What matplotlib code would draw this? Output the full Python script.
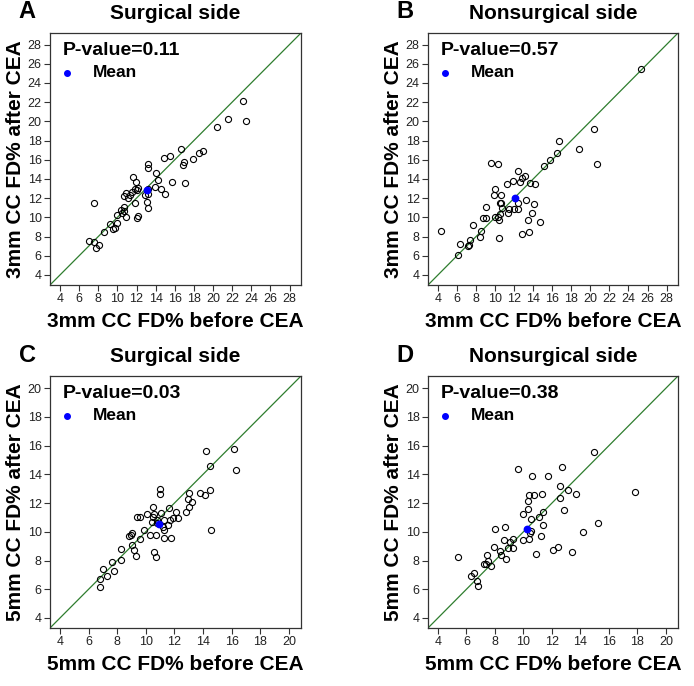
import numpy as np
import matplotlib
matplotlib.use("Agg")
import matplotlib.pyplot as plt

plt.rcParams['font.family'] = ['Liberation Sans', 'DejaVu Sans']

# panel A: 3mm, surgical side
a_before = [7.0, 7.6, 7.6, 7.75, 8.1, 8.6, 9.2, 9.5, 9.7, 9.95, 9.95, 10.4, 10.5, 10.65,
            10.7, 10.85, 10.7, 10.9, 11.1, 11.3, 11.6, 11.55, 11.8, 11.85, 11.95, 12.05,
            12.15, 12.1, 12.2, 12.9, 13.15, 13.2, 13.1, 13.15, 13.25, 13.25, 13.9, 14.0,
            14.2, 14.6, 14.9, 14.95, 15.55, 15.7, 16.6, 16.95, 16.9, 17.1, 17.9, 18.5,
            18.95, 20.4, 21.55, 23.15, 23.4]
a_after = [7.55, 11.5, 7.4, 6.8, 7.1, 8.5, 9.3, 8.8, 8.85, 9.45, 10.25, 10.8, 10.5, 11.1,
           10.65, 10.05, 12.2, 12.55, 12.05, 12.3, 14.15, 12.65, 12.95, 11.5, 13.7, 12.85,
           10.15, 9.9, 13.1, 12.3, 15.6, 15.1, 11.6, 10.95, 12.45, 12.95, 13.2, 14.6,
           13.9, 13.0, 16.15, 12.45, 16.4, 13.65, 17.15, 15.8, 15.4, 13.6, 16.05, 16.7,
           16.9, 19.45, 20.2, 22.1, 20.0]
a_mean = (13.05, 12.8)

# panel B: 3mm, nonsurgical side
b_before = [4.3, 6.15, 6.3, 7.4, 7.2, 7.3, 7.65, 8.4, 8.55, 8.7, 9.05, 9.05, 9.6, 9.9,
            10.0, 10.0, 10.25, 10.35, 10.45, 10.4, 10.55, 10.65, 10.5, 10.6, 10.75, 11.2,
            11.4, 11.5, 11.85, 12.0, 12.35, 12.45, 12.45, 12.65, 12.8, 12.8, 13.15, 13.2,
            13.4, 13.6, 13.7, 13.9, 14.1, 14.2, 14.7, 15.1, 15.75, 16.5, 16.75, 18.8,
            20.35, 20.7, 25.3]
b_after = [8.55, 6.05, 7.25, 7.6, 7.05, 7.15, 9.2, 7.9, 8.55, 9.95, 9.95, 11.1, 15.65,
           12.3, 12.95, 10.0, 10.0, 15.55, 7.85, 9.75, 10.35, 12.3, 11.5, 11.45, 11.0,
           13.45, 10.45, 10.9, 13.8, 10.9, 10.9, 14.8, 11.5, 13.7, 8.25, 14.1, 14.35,
           11.8, 9.7, 8.45, 13.6, 10.4, 11.35, 13.45, 9.5, 15.3, 16.0, 16.75, 17.95,
           17.1, 19.25, 15.6, 25.5]
b_mean = (12.1, 12.05)

# panel C: 5mm, surgical side
c_before = [6.78, 6.8, 7.0, 7.3, 7.65, 7.8, 8.25, 8.25, 8.8, 8.95, 9.05, 9.05, 9.15, 9.3,
            9.35, 9.6, 9.6, 9.85, 10.1, 10.3, 10.45, 10.5, 10.5, 10.55, 10.6, 10.7, 10.7,
            10.8, 10.8, 11.0, 11.0, 11.05, 11.2, 11.3, 11.3, 11.3, 11.55, 11.6, 11.7,
            11.75, 11.9, 12.1, 12.25, 12.8, 12.95, 13.0, 13.05, 13.25, 13.8, 14.15, 14.2,
            14.5, 14.5, 14.55, 16.15, 16.3]
c_after = [6.15, 6.7, 7.4, 6.9, 7.9, 7.3, 8.05, 8.8, 9.7, 9.75, 9.9, 9.1, 8.7, 8.3, 11.0,
           11.05, 9.5, 10.1, 11.25, 9.8, 10.65, 11.75, 11.0, 8.6, 11.25, 9.8, 8.25, 10.85,
           10.6, 13.0, 12.6, 11.3, 10.35, 10.8, 10.1, 9.6, 10.5, 11.65, 10.85, 9.55,
           10.95, 11.35, 10.95, 11.4, 12.25, 12.7, 11.7, 12.1, 12.7, 12.55, 15.6, 14.55,
           12.9, 10.15, 15.8, 14.3]
c_mean = (10.95, 10.55)

# panel D: 5mm, nonsurgical side
d_before = [5.4, 6.3, 6.5, 6.75, 6.8, 7.25, 7.35, 7.45, 7.5, 7.7, 7.9, 8.0, 8.35, 8.4,
            8.7, 8.65, 8.8, 8.9, 9.05, 9.25, 9.3, 9.6, 9.95, 10.0, 10.3, 10.35, 10.4,
            10.4, 10.45, 10.5, 10.55, 10.6, 10.75, 10.85, 11.2, 11.1, 11.3, 11.4, 11.4,
            11.7, 12.1, 12.4, 12.55, 12.6, 12.7, 12.85, 13.15, 13.4, 13.7, 14.2, 14.95,
            15.2, 17.8]
d_after = [8.25, 6.9, 7.1, 6.6, 6.25, 7.75, 7.75, 8.35, 7.95, 7.65, 8.95, 10.2, 8.65,
           8.35, 10.35, 9.4, 8.1, 8.9, 9.3, 8.85, 9.5, 14.4, 9.4, 11.25, 12.15, 11.6,
           12.55, 9.5, 9.9, 10.05, 10.9, 13.9, 12.55, 8.45, 9.7, 11.0, 12.6, 10.5, 11.35,
           13.9, 8.7, 8.95, 12.35, 13.2, 14.5, 11.5, 12.9, 8.6, 12.6, 10.0, 15.55, 10.6,
           12.8]
d_mean = (10.25, 10.2)

letters = ["A", "B", "C", "D"]
titles = ["Surgical side", "Nonsurgical side", "Surgical side", "Nonsurgical side"]
pvalues = ["0.11", "0.57", "0.03", "0.38"]
sizes = ["3mm", "3mm", "5mm", "5mm"]
ticks_3mm = list(range(4, 29, 2))
ticks_5mm = list(range(4, 21, 2))

panels = [(a_before, a_after, a_mean), (b_before, b_after, b_mean),
          (c_before, c_after, c_mean), (d_before, d_after, d_mean)]

W, H = 694, 686
fig = plt.figure(figsize=(W / 100, H / 100), dpi=100)

# axes boxes in pixels: left, top, right, bottom
boxes = [(50, 33, 301, 285), (428, 33, 678, 285),
         (50, 376, 301, 628), (428, 376, 678, 628)]
edge = "#333333"

for i, (xs, ys, mean) in enumerate(panels):
    l, t, r, b = boxes[i]
    ax = fig.add_axes([l / W, 1 - b / H, (r - l) / W, (b - t) / H])
    if i < 2:
        ticks = ticks_3mm
        lim = (2.95, 29.2)
    else:
        ticks = ticks_5mm
        lim = (3.3, 20.85)
    ax.set_xlim(lim)
    ax.set_ylim(lim)
    ax.plot(lim, lim, color="#2e7d2e", lw=0.9, zorder=1)
    ax.plot(xs, ys, "o", mfc="none", mec="black", ms=4.4, mew=0.8, zorder=2)
    ax.plot([mean[0]], [mean[1]], "o", color="blue", ms=4.6, zorder=3)
    ax.set_xticks(ticks)
    ax.set_yticks(ticks)
    ax.tick_params(direction="out", length=4, width=0.8, color=edge,
                   labelsize=9, pad=2, labelcolor="#222222")
    for s in ax.spines.values():
        s.set_color(edge)
        s.set_linewidth(0.9)
    ax.set_xlabel(f"{sizes[i]} CC FD% before CEA", fontsize=15,
                  fontweight="bold", labelpad=5)
    ax.set_ylabel(f"{sizes[i]} CC FD% after CEA", fontsize=15,
                  fontweight="bold", labelpad=2)
    ax.set_title(titles[i], fontsize=15, fontweight="bold", pad=10)
    ax.text(0.05, 0.93, f"P-value={pvalues[i]}", transform=ax.transAxes,
            fontsize=14, fontweight="bold", va="center", ha="left")
    ax.plot([0.067], [0.842], "o", color="blue", ms=4, transform=ax.transAxes)
    ax.text(0.17, 0.842, "Mean", transform=ax.transAxes,
            fontsize=12.5, fontweight="bold", va="center", ha="left")
    fig.text((l - 23) / W, 1 - (t - 21) / H, letters[i], fontsize=17,
             fontweight="bold", ha="center", va="center")

fig.savefig("out.png", dpi=100)
